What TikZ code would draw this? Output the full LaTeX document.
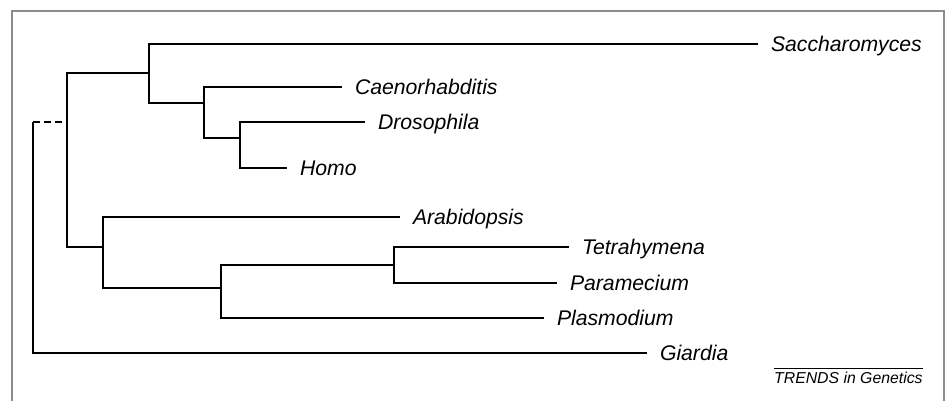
\documentclass[tikz,border=0pt]{standalone}
\usepackage{fontspec}
\setmainfont{Liberation Sans}
\begin{document}
\begin{tikzpicture}[x=1pt,y=-1pt,
  branch/.style={line width=1.3pt, black},
  leaf/.style={anchor=west, inner sep=0pt, outer xsep=13pt, text height=15pt, text depth=0pt,
    font=\fontsize{21.2}{25}\selectfont\itshape},
  frame/.style={draw=black!45, line width=1.4pt}]
\useasboundingbox (0,0) rectangle (948,400);
\draw[frame] (12,11) rectangle (944,412);

% internal nodes (stem points)
\coordinate (R) at (33,122);
\coordinate (D) at (67,122);
\coordinate (A) at (149,73);
\coordinate (B) at (204,103);
\coordinate (C) at (240,138);
\coordinate (E) at (103,247);
\coordinate (F) at (221,288);
\coordinate (G) at (394,265);

% leaves
\node[leaf] (sac) at (758,44) {Saccharomyces};
\node[leaf] (cae) at (342,87) {Caenorhabditis};
\node[leaf] (dro) at (365,122) {Drosophila};
\node[leaf] (hom) at (287,168) {Homo};
\node[leaf] (ara) at (400,217) {Arabidopsis};
\node[leaf] (tet) at (569,247) {Tetrahymena};
\node[leaf] (par) at (557,283) {Paramecium};
\node[leaf] (pla) at (544,318) {Plasmodium};
\node[leaf] (gia) at (647,353) {Giardia};

% branches
\draw[branch, dash pattern=on 7pt off 4pt] (R) -- (D);
\draw[branch] (R) |- (gia.west);
\draw[branch] (D) |- (A);
\draw[branch] (D) |- (E);
\draw[branch] (A) |- (sac.west);
\draw[branch] (A) |- (B);
\draw[branch] (B) |- (cae.west);
\draw[branch] (B) |- (C);
\draw[branch] (C) |- (dro.west);
\draw[branch] (C) |- (hom.west);
\draw[branch] (E) |- (ara.west);
\draw[branch] (E) |- (F);
\draw[branch] (F) |- (G);
\draw[branch] (F) |- (pla.west);
\draw[branch] (G) |- (tet.west);
\draw[branch] (G) |- (par.west);

% journal mark
\node[anchor=base west, inner sep=0pt, text height=11.5pt, text depth=0pt,
  font=\fontsize{15.8}{18}\selectfont\itshape] (trends) at (774,383) {TRENDS in Genetics};
\draw[line width=0.9pt] ([yshift=3pt]trends.north west) -- ([yshift=3pt]trends.north east);
\end{tikzpicture}
\end{document}
